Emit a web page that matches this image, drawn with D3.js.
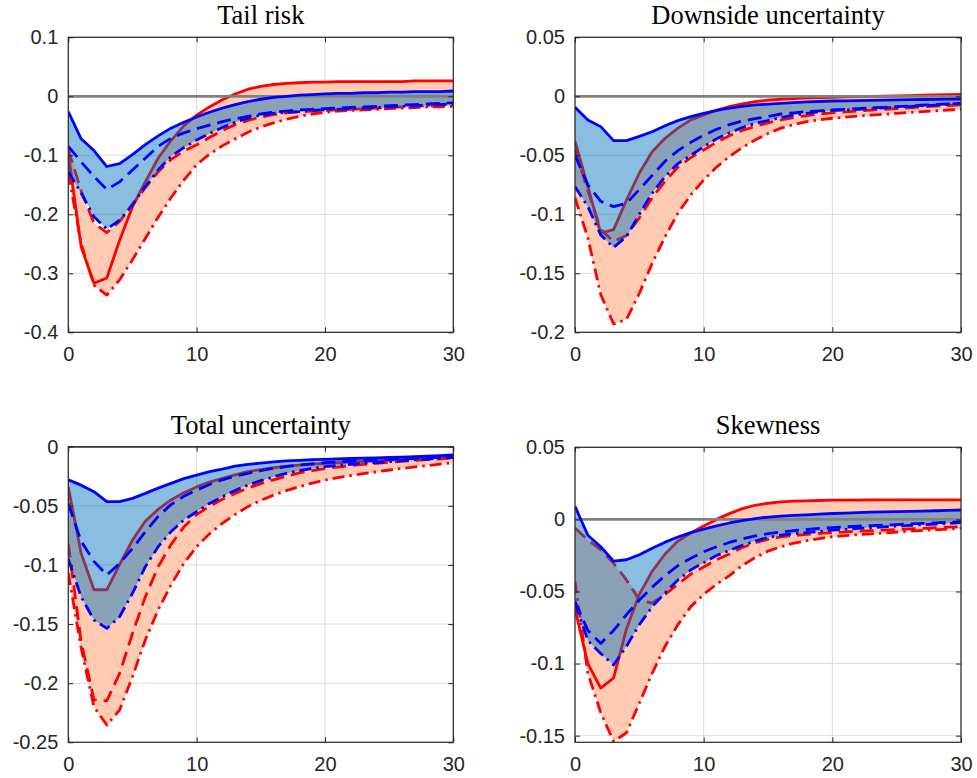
<!DOCTYPE html>
<html>
<head>
<meta charset="utf-8">
<script src="https://cdn.jsdelivr.net/npm/d3@7"></script>
<style>
    body { margin: 0; background: #fff; }
    .title { font-family: "Liberation Serif", "Times New Roman", serif; font-size: 26.5px; fill: #000; }
</style>
</head>
<body>
<div id="chart"></div>
<script>
// horizons and tick labels
var horizons = [0, 1, 2, 3, 4, 5, 6, 7, 8, 9, 10, 11, 12, 13, 14, 15, 16, 17, 18, 19, 20, 21, 22, 23, 24, 25, 26, 27, 28, 29, 30];
var xTicks = [0, 10, 20, 30];
var titles = ["Tail risk", "Downside uncertainty", "Total uncertainty", "Skewness"];
var yTicksTail = [0.1, 0, -0.1, -0.2, -0.3, -0.4];
var yTicksDown = [0.05, 0, -0.05, -0.1, -0.15, -0.2];
var yTicksTotal = [0, -0.05, -0.1, -0.15, -0.2, -0.25];
var yTicksSkew = [0.05, 0, -0.05, -0.1, -0.15];

// Tail risk
var tailRedSolid = [-0.097, -0.255, -0.317, -0.308, -0.244, -0.187, -0.145, -0.105, -0.075, -0.050, -0.032, -0.018, -0.006, 0.004, 0.012, 0.017, 0.020, 0.022, 0.023, 0.024, 0.024, 0.025, 0.025, 0.025, 0.025, 0.025, 0.025, 0.026, 0.026, 0.026, 0.026];
var tailRedDash = [-0.090, -0.160, -0.215, -0.231, -0.212, -0.183, -0.155, -0.128, -0.107, -0.093, -0.082, -0.070, -0.058, -0.048, -0.041, -0.035, -0.031, -0.028, -0.026, -0.025, -0.024, -0.023, -0.022, -0.021, -0.020, -0.019, -0.018, -0.017, -0.016, -0.016, -0.015];
var tailRedDot = [-0.130, -0.250, -0.320, -0.337, -0.311, -0.277, -0.241, -0.205, -0.172, -0.142, -0.116, -0.098, -0.084, -0.072, -0.061, -0.052, -0.045, -0.039, -0.034, -0.030, -0.027, -0.025, -0.024, -0.023, -0.022, -0.021, -0.020, -0.019, -0.018, -0.018, -0.017];
var tailBlueSolid = [-0.026, -0.072, -0.092, -0.119, -0.114, -0.099, -0.082, -0.067, -0.054, -0.044, -0.035, -0.027, -0.020, -0.014, -0.009, -0.005, -0.002, 0.000, 0.002, 0.003, 0.004, 0.005, 0.005, 0.006, 0.006, 0.007, 0.007, 0.008, 0.008, 0.008, 0.009];
var tailBlueDash = [-0.085, -0.111, -0.136, -0.158, -0.145, -0.125, -0.105, -0.085, -0.071, -0.062, -0.055, -0.049, -0.043, -0.038, -0.034, -0.030, -0.027, -0.025, -0.023, -0.022, -0.021, -0.020, -0.019, -0.018, -0.017, -0.016, -0.015, -0.014, -0.013, -0.012, -0.011];
var tailBlueDot = [-0.128, -0.164, -0.204, -0.225, -0.210, -0.184, -0.153, -0.125, -0.102, -0.087, -0.074, -0.063, -0.053, -0.044, -0.037, -0.032, -0.029, -0.027, -0.026, -0.024, -0.023, -0.022, -0.021, -0.020, -0.019, -0.018, -0.017, -0.016, -0.015, -0.014, -0.013];

// Downside uncertainty
var downRedSolid = [-0.038, -0.0766, -0.116, -0.113, -0.088, -0.065, -0.047, -0.0356, -0.027, -0.020, -0.0158, -0.012, -0.0088, -0.0064, -0.0045, -0.0033, -0.0025, -0.0019, -0.0014, -0.001, -0.0008, -0.0005, -0.0003, -0.0001, 0.0001, 0.0003, 0.0006, 0.0009, 0.0012, 0.0015, 0.0017];
var downRedDash = [-0.045, -0.080, -0.113, -0.123, -0.118, -0.103, -0.086, -0.072, -0.060, -0.052, -0.0455, -0.039, -0.0335, -0.029, -0.0255, -0.0225, -0.020, -0.018, -0.0163, -0.015, -0.014, -0.0132, -0.0124, -0.0117, -0.011, -0.0104, -0.0097, -0.009, -0.0084, -0.0078, -0.0073];
var downRedDot = [-0.086, -0.120, -0.168, -0.193, -0.189, -0.167, -0.1415, -0.119, -0.099, -0.0836, -0.071, -0.060, -0.051, -0.0435, -0.037, -0.0315, -0.027, -0.024, -0.0215, -0.020, -0.0186, -0.0177, -0.0168, -0.016, -0.0152, -0.0144, -0.0137, -0.013, -0.0123, -0.0116, -0.011];
var downBlueSolid = [-0.0093, -0.020, -0.0257, -0.0376, -0.0376, -0.034, -0.030, -0.025, -0.0206, -0.0172, -0.0144, -0.012, -0.010, -0.0085, -0.0073, -0.0066, -0.006, -0.0054, -0.0048, -0.0044, -0.004, -0.0038, -0.0036, -0.0034, -0.0032, -0.003, -0.0029, -0.0027, -0.0026, -0.0024, -0.0023];
var downBlueDash = [-0.050, -0.075, -0.089, -0.0935, -0.0907, -0.079, -0.067, -0.055, -0.046, -0.039, -0.033, -0.028, -0.024, -0.021, -0.019, -0.017, -0.015, -0.014, -0.013, -0.0123, -0.0116, -0.011, -0.0104, -0.0098, -0.0093, -0.0088, -0.0082, -0.0076, -0.007, -0.0065, -0.006];
var downBlueDot = [-0.0766, -0.0935, -0.1175, -0.128, -0.119, -0.100, -0.082, -0.068, -0.057, -0.050, -0.0427, -0.036, -0.031, -0.0265, -0.023, -0.0205, -0.018, -0.016, -0.0144, -0.013, -0.012, -0.0115, -0.011, -0.0104, -0.0098, -0.0093, -0.0087, -0.0081, -0.0075, -0.0068, -0.006];

// Total uncertainty
var totalRedSolid = [-0.034, -0.090, -0.121, -0.121, -0.0995, -0.079, -0.063, -0.053, -0.045, -0.039, -0.034, -0.030, -0.0268, -0.0238, -0.0211, -0.0193, -0.0178, -0.0165, -0.0155, -0.0147, -0.014, -0.0134, -0.0128, -0.0123, -0.0118, -0.0113, -0.0107, -0.0101, -0.0096, -0.009, -0.0085];
var totalRedDash = [-0.082, -0.165, -0.214, -0.215, -0.1917, -0.158, -0.127, -0.1015, -0.0828, -0.068, -0.0575, -0.0505, -0.0445, -0.0395, -0.035, -0.0312, -0.028, -0.025, -0.0222, -0.0202, -0.0185, -0.0172, -0.016, -0.015, -0.0141, -0.0132, -0.0124, -0.0116, -0.0109, -0.0102, -0.0095];
var totalRedDot = [-0.107, -0.170, -0.220, -0.2354, -0.2227, -0.1945, -0.1635, -0.138, -0.117, -0.0987, -0.0846, -0.0737, -0.0648, -0.0572, -0.0507, -0.0454, -0.0409, -0.0371, -0.0338, -0.0308, -0.0282, -0.0262, -0.0244, -0.0228, -0.0213, -0.0197, -0.0184, -0.0171, -0.0159, -0.0147, -0.0135];
var totalBlueSolid = [-0.028, -0.0325, -0.038, -0.0465, -0.0465, -0.0437, -0.0395, -0.035, -0.031, -0.027, -0.024, -0.021, -0.019, -0.0165, -0.015, -0.0138, -0.0128, -0.012, -0.0115, -0.011, -0.0107, -0.0104, -0.010, -0.0097, -0.0094, -0.0091, -0.0088, -0.0084, -0.008, -0.0075, -0.007];
var totalBlueDash = [-0.048, -0.080, -0.097, -0.1085, -0.0987, -0.086, -0.072, -0.059, -0.049, -0.042, -0.0367, -0.032, -0.028, -0.025, -0.0225, -0.0203, -0.0183, -0.0168, -0.0155, -0.0145, -0.0135, -0.0129, -0.0123, -0.0117, -0.0112, -0.0107, -0.0102, -0.0098, -0.0093, -0.0089, -0.0085];
var totalBlueDot = [-0.095, -0.127, -0.1466, -0.1537, -0.1438, -0.124, -0.1015, -0.0846, -0.0719, -0.062, -0.055, -0.048, -0.0423, -0.037, -0.0324, -0.0287, -0.0254, -0.0226, -0.0203, -0.0185, -0.0169, -0.0158, -0.0149, -0.0141, -0.0134, -0.0127, -0.0119, -0.0111, -0.0104, -0.0097, -0.009];

// Skewness
var skewRedSolid = [-0.062, -0.100, -0.117, -0.110, -0.076, -0.052, -0.036, -0.024, -0.015, -0.0095, -0.0045, 0.000, 0.004, 0.0075, 0.0098, 0.0112, 0.0121, 0.0126, 0.0129, 0.0131, 0.0133, 0.0134, 0.0134, 0.0135, 0.0135, 0.0135, 0.0135, 0.0135, 0.0135, 0.0135, 0.0135];
var skewRedDash = [-0.006, -0.0143, -0.021, -0.0305, -0.042, -0.056, -0.058, -0.052, -0.045, -0.038, -0.033, -0.028, -0.024, -0.0195, -0.0162, -0.0138, -0.0122, -0.0112, -0.0104, -0.0097, -0.0092, -0.0087, -0.0082, -0.0078, -0.0074, -0.007, -0.0066, -0.0062, -0.0058, -0.0054, -0.0051];
var skewRedDot = [-0.043, -0.1067, -0.134, -0.154, -0.148, -0.1275, -0.1067, -0.088, -0.073, -0.0605, -0.052, -0.045, -0.039, -0.032, -0.0265, -0.022, -0.019, -0.0165, -0.0148, -0.0133, -0.012, -0.0113, -0.0106, -0.010, -0.0094, -0.0088, -0.0082, -0.0077, -0.0072, -0.0067, -0.0062];
var skewBlueSolid = [0.009, -0.011, -0.019, -0.029, -0.028, -0.0245, -0.020, -0.0158, -0.0122, -0.0092, -0.0068, -0.0045, -0.0025, -0.0008, 0.0006, 0.0016, 0.0023, 0.0028, 0.0032, 0.0036, 0.0041, 0.0044, 0.0047, 0.005, 0.0052, 0.0054, 0.0056, 0.0058, 0.006, 0.0062, 0.0065];
var skewBlueDash = [-0.057, -0.077, -0.086, -0.077, -0.066, -0.056, -0.047, -0.039, -0.032, -0.027, -0.0225, -0.019, -0.016, -0.0135, -0.0115, -0.0098, -0.0088, -0.0078, -0.007, -0.0063, -0.0057, -0.0052, -0.0047, -0.0043, -0.004, -0.0036, -0.0032, -0.0028, -0.0024, -0.002, -0.0016];
var skewBlueDot = [-0.058, -0.084, -0.093, -0.101, -0.088, -0.073, -0.0606, -0.051, -0.042, -0.035, -0.030, -0.025, -0.0215, -0.018, -0.015, -0.0125, -0.011, -0.010, -0.0092, -0.0083, -0.0075, -0.0069, -0.0063, -0.0057, -0.0052, -0.0047, -0.0042, -0.0037, -0.0032, -0.0028, -0.0023];

// colours
var redLine = "#ff0000";
var blueLine = "#0000ff";
var redFill = "#ffccb3";
var blueFill = "#0072bd";
var blueAlpha = 0.46;

var svgWidth = 977;
var svgHeight = 778;

var svg = d3.select("#chart")
    .append("svg")
    .attr("width", svgWidth)
    .attr("height", svgHeight);

var panels = [
    { title: titles[0], left: 68.3, top: 37.3, width: 385, height: 295, yDomain: [-0.4, 0.1], yTicks: yTicksTail,
      red: [tailRedSolid, tailRedDash, tailRedDot], blue: [tailBlueSolid, tailBlueDash, tailBlueDot] },
    { title: titles[1], left: 575, top: 37.3, width: 386, height: 295, yDomain: [-0.2, 0.05], yTicks: yTicksDown,
      red: [downRedSolid, downRedDash, downRedDot], blue: [downBlueSolid, downBlueDash, downBlueDot] },
    { title: titles[2], left: 68.3, top: 446.7, width: 385, height: 295.6, yDomain: [-0.25, 0], yTicks: yTicksTotal,
      red: [totalRedSolid, totalRedDash, totalRedDot], blue: [totalBlueSolid, totalBlueDash, totalBlueDot] },
    { title: titles[3], left: 575, top: 447.3, width: 386, height: 295, yDomain: [-0.1546, 0.05], yTicks: yTicksSkew,
      red: [skewRedSolid, skewRedDash, skewRedDot], blue: [skewBlueSolid, skewBlueDash, skewBlueDot] }
];

var dashStyles = [null, "14,7", "12,5,2.5,5"];

panels.forEach(drawPanel);

function bandRows(series) {
    return horizons.map(function (h, k) {
        var vals = series.map(s => s[k]);
        return { h: h, lo: d3.min(vals), hi: d3.max(vals) };
    });
}

function styleTicks(a) {
    a.select(".domain").remove();
    a.selectAll(".tick line").attr("stroke", "#262626");
    a.selectAll(".tick text")
        .attr("fill", "#262626")
        .style("font-family", "'Liberation Sans', Arial, sans-serif")
        .style("font-size", "20px");
}

function drawPanel(p, i) {
    var g = svg.append("g")
        .attr("transform", `translate(${p.left}, ${p.top})`);

    var x = d3.scaleLinear().domain([0, 30]).range([0, p.width]);
    var y = d3.scaleLinear().domain(p.yDomain).range([p.height, 0]);

    g.append("clipPath")
        .attr("id", "clip" + i)
        .append("rect")
        .attr("width", p.width)
        .attr("height", p.height);

    // grid
    g.selectAll(".vgrid")
        .data(xTicks)
        .enter()
        .append("line")
        .attr("x1", d => x(d)).attr("x2", d => x(d))
        .attr("y1", 0).attr("y2", p.height)
        .attr("stroke", "#dcdcdc")
        .attr("stroke-width", 1);

    g.selectAll(".hgrid")
        .data(p.yTicks)
        .enter()
        .append("line")
        .attr("x1", 0).attr("x2", p.width)
        .attr("y1", d => y(d)).attr("y2", d => y(d))
        .attr("stroke", "#dcdcdc")
        .attr("stroke-width", 1);

    var plot = g.append("g").attr("clip-path", `url(#clip${i})`);

    var area = d3.area()
        .x(d => x(d.h))
        .y0(d => y(d.lo))
        .y1(d => y(d.hi));

    var line = d3.line()
        .x((d, k) => x(horizons[k]))
        .y(d => y(d));

    // red band and lines
    plot.append("path")
        .datum(bandRows(p.red))
        .attr("d", area)
        .attr("fill", redFill);

    p.red.forEach(function (s, k) {
        plot.append("path")
            .datum(s)
            .attr("d", line)
            .attr("fill", "none")
            .attr("stroke", redLine)
            .attr("stroke-width", 2.8)
            .attr("stroke-linejoin", "round")
            .attr("stroke-dasharray", dashStyles[k]);
    });

    // blue band (transparent, sits over the red lines)
    plot.append("path")
        .datum(bandRows(p.blue))
        .attr("d", area)
        .attr("fill", blueFill)
        .attr("fill-opacity", blueAlpha);

    // zero line
    plot.append("line")
        .attr("x1", x(0)).attr("x2", x(30))
        .attr("y1", y(0)).attr("y2", y(0))
        .attr("stroke", "#808080")
        .attr("stroke-width", 2.8);

    p.blue.forEach(function (s, k) {
        plot.append("path")
            .datum(s)
            .attr("d", line)
            .attr("fill", "none")
            .attr("stroke", blueLine)
            .attr("stroke-width", 2.8)
            .attr("stroke-linejoin", "round")
            .attr("stroke-dasharray", dashStyles[k]);
    });

    // axes with inward ticks
    var fmt = d => String(d);

    g.append("g")
        .call(d3.axisLeft(y).tickValues(p.yTicks).tickFormat(fmt).tickSizeInner(-5).tickSizeOuter(0).tickPadding(10))
        .call(styleTicks);

    g.append("g")
        .attr("transform", `translate(${p.width}, 0)`)
        .call(d3.axisRight(y).tickValues(p.yTicks).tickFormat("").tickSizeInner(-5).tickSizeOuter(0))
        .call(styleTicks);

    g.append("g")
        .attr("transform", `translate(0, ${p.height})`)
        .call(d3.axisBottom(x).tickValues(xTicks).tickFormat(fmt).tickSizeInner(-5).tickSizeOuter(0).tickPadding(14.5))
        .call(styleTicks);

    g.append("g")
        .call(d3.axisTop(x).tickValues(xTicks).tickFormat("").tickSizeInner(-5).tickSizeOuter(0))
        .call(styleTicks);

    g.append("rect")
        .attr("width", p.width)
        .attr("height", p.height)
        .attr("fill", "none")
        .attr("stroke", "#262626")
        .attr("stroke-width", 1.2);

    g.append("text")
        .attr("class", "title")
        .attr("x", p.width / 2)
        .attr("y", -13)
        .attr("text-anchor", "middle")
        .text(p.title);
}
</script>
</body>
</html>
